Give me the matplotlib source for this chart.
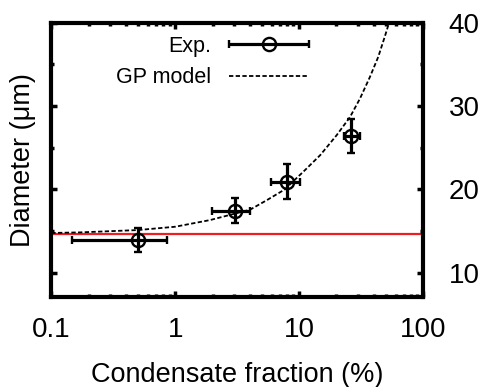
import numpy as np
import matplotlib
matplotlib.use("Agg")
import matplotlib.pyplot as plt
from matplotlib.ticker import MultipleLocator, FuncFormatter, LogLocator
from matplotlib.legend_handler import HandlerErrorbar

plt.rcParams['font.family'] = ['Liberation Sans', 'DejaVu Sans']

# measured points: condensate fraction (%) and diameter (um)
frac = [0.50, 3.04, 8.03, 26.1]
frac_lo = [0.148, 1.99, 5.90, 23.2]
frac_hi = [0.86, 4.02, 10.2, 31.0]
diam = [13.9, 17.4, 20.9, 26.4]
diam_err = [1.45, 1.5, 2.1, 2.05]

# GP model curve
gp_frac = [0.1, 0.17, 0.50, 1.0, 1.91, 4.02, 5.5, 7.7, 8.45, 10.8, 14.8,
           20.1, 25.8, 31.0, 37.3, 43.5, 49.3, 53.2]
gp_diam = [14.75, 14.82, 15.10, 15.5, 16.3, 17.55, 18.7, 20.0, 20.6, 22.1,
           24.1, 26.5, 28.7, 30.9, 33.5, 35.9, 38.4, 40.0]

# reference diameter (red line)
d0 = 14.65

fig = plt.figure(figsize=(4.86, 3.87), dpi=100)
ax = fig.add_axes([0.1056, 0.2313, 0.7648, 0.7098])

ax.axhline(d0, color='#ee1c24', lw=1.6, zorder=1)

gp_line, = ax.plot(gp_frac, gp_diam, color='black', lw=1.3, dashes=(2.4, 1.3),
                   zorder=2)

xerr = [np.array(frac) - np.array(frac_lo), np.array(frac_hi) - np.array(frac)]
ax.errorbar(frac, diam, xerr=xerr, yerr=diam_err, fmt='o', color='black',
            mfc='none', mec='black', ms=9.5, mew=1.7, elinewidth=2.3,
            capsize=3, capthick=2.3, zorder=3)

# legend entry with the horizontal bar only
proxy = ax.errorbar([np.nan], [np.nan], xerr=[1], fmt='o', color='black',
                    mfc='none', mec='black', ms=9.5, mew=1.7, elinewidth=2.3,
                    capsize=3, capthick=2.3)

ax.set_xscale('log')
ax.set_xlim(0.1, 100)
ax.set_ylim(7, 40)

ax.xaxis.set_major_formatter(FuncFormatter(lambda v, p: f'{v:g}'))
ax.xaxis.set_minor_locator(LogLocator(base=10, subs=np.arange(2, 10)))
ax.yaxis.set_major_locator(MultipleLocator(10))
ax.yaxis.set_minor_locator(MultipleLocator(5))

ax.tick_params(which='both', direction='in', top=True, bottom=True,
               left=True, right=True, labelleft=False, labelright=True,
               width=2.5, colors='black')
ax.tick_params(which='major', length=4, labelsize=20)
ax.tick_params(axis='x', which='major', pad=14)
ax.tick_params(axis='y', which='major', pad=18.5)
ax.tick_params(which='minor', length=2.2)

for s in ax.spines.values():
    s.set_linewidth(3)

ax.set_xlabel('Condensate fraction (%)', fontsize=19.5, labelpad=14)
ax.set_ylabel('Diameter (μm)', fontsize=19.5, labelpad=11)

ax.legend([proxy, gp_line], ['Exp.', 'GP model'], loc='upper right',
          bbox_to_anchor=(0.6925, 0.952), frameon=False, fontsize=15.5,
          markerfirst=False, handlelength=3.7, handletextpad=0.84,
          labelspacing=0.48, borderpad=0, borderaxespad=0,
          handler_map={type(proxy): HandlerErrorbar(xerr_size=1.85)})

fig.savefig('out.png', dpi=100)
